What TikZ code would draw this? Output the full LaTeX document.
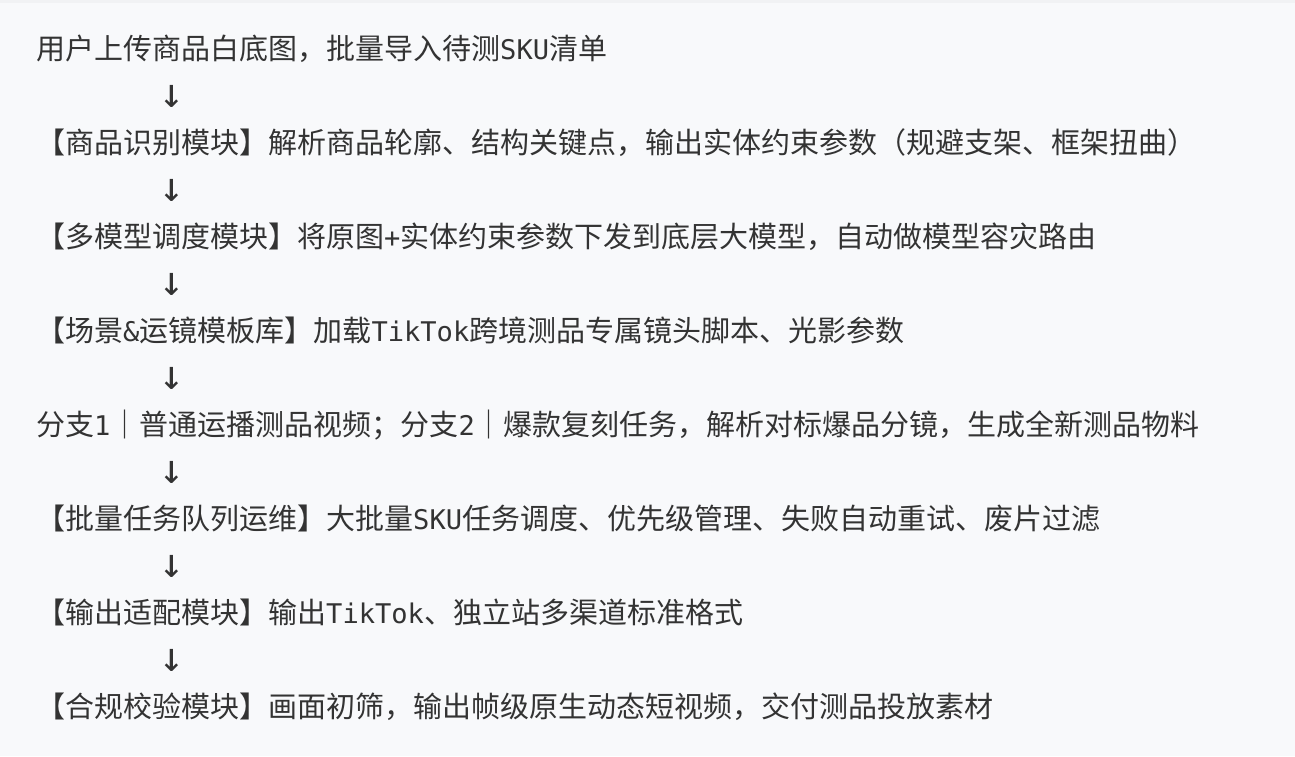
\documentclass[tikz,border=0pt]{standalone}
\usepackage{fontspec}
\setmainfont{Noto Sans CJK SC}
\newfontfamily\skumono{DejaVu Sans Mono}[Scale=0.934]
\definecolor{pagebg}{HTML}{F8F9FB}
\definecolor{topband}{HTML}{F1F2F4}
\definecolor{ink}{HTML}{333333}
\newcommand{\flowfont}{\fontsize{29}{47}\selectfont}
\newcommand{\arrowfont}{\fontsize{44}{47}\selectfont\skumono}

\begin{document}
\begin{tikzpicture}[x=1pt, y=1pt,
    stepline/.style={anchor=base west, inner sep=0pt, text=ink, font=\flowfont},
    downarrow/.style={anchor=center, inner sep=0pt, text=ink, font=\arrowfont}]
          % Background
          \fill[pagebg] (0,0) rectangle (1295,-756);
          \fill[topband] (0,0) rectangle (1295,-3);
          \useasboundingbox (0,0) rectangle (1295,-756);
            % Nodes
            \node[stepline] (upload) at (36,-59) {用户上传商品白底图，批量导入待测{\skumono SKU}清单};
            \node[downarrow] (a1) at (172,-96) {↓};
            \node[stepline] (recog) at (36,-153) {【商品识别模块】解析商品轮廓、结构关键点，输出实体约束参数（规避支架、框架扭曲）};
            \node[downarrow] (a2) at (172,-190) {↓};
            \node[stepline] (sched) at (36,-247) {【多模型调度模块】将原图{\skumono +}实体约束参数下发到底层大模型，自动做模型容灾路由};
            \node[downarrow] (a3) at (172,-284) {↓};
            \node[stepline] (scene) at (36,-341) {【场景{\skumono \&}运镜模板库】加载{\skumono TikTok}跨境测品专属镜头脚本、光影参数};
            \node[downarrow] (a4) at (172,-378) {↓};
            \node[stepline] (branch) at (36,-435) {分支{\skumono 1}｜普通运播测品视频；分支{\skumono 2}｜爆款复刻任务，解析对标爆品分镜，生成全新测品物料};
            \node[downarrow] (a5) at (172,-472) {↓};
            \node[stepline] (queue) at (36,-529) {【批量任务队列运维】大批量{\skumono SKU}任务调度、优先级管理、失败自动重试、废片过滤};
            \node[downarrow] (a6) at (172,-566) {↓};
            \node[stepline] (adapt) at (36,-623) {【输出适配模块】输出{\skumono TikTok}、独立站多渠道标准格式};
            \node[downarrow] (a7) at (172,-660) {↓};
            \node[stepline] (check) at (36,-717) {【合规校验模块】画面初筛，输出帧级原生动态短视频，交付测品投放素材};
\end{tikzpicture}
\end{document}
